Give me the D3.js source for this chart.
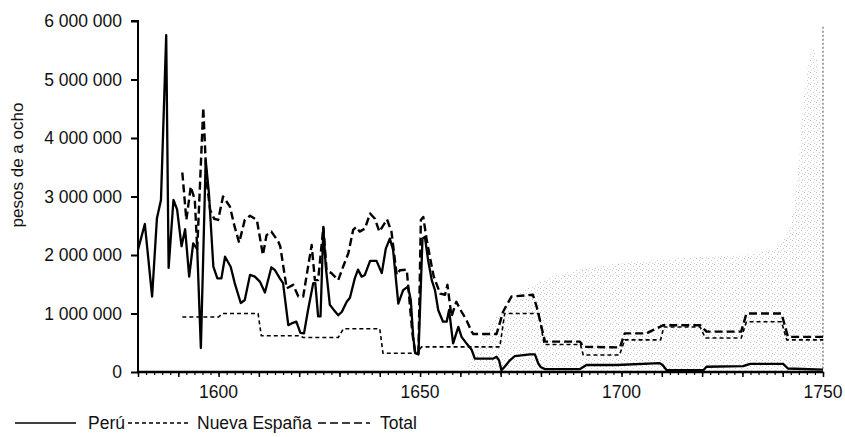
<!DOCTYPE html>
<html>
<head>
<meta charset="utf-8">
<script src="https://cdn.jsdelivr.net/npm/d3@7"></script>
<style>
  body { margin: 0; background: #fff; }
  svg text { font-family: "Liberation Sans", Arial, sans-serif; fill: #111; }
</style>
</head>
<body>
<svg id="chart" width="845" height="437"></svg>
<script>
// Perú
let peruYears = [1580, 1581.7, 1583.5, 1584.7, 1585.7, 1587, 1587.6, 1588.8, 1589.7, 1590.8,
  1591.7, 1592.7, 1593.7, 1594.7, 1595.6, 1596.8, 1597.6, 1598.7, 1599.7, 1600.7,
  1601.6, 1603, 1604, 1605.5, 1606.5, 1607.8, 1609, 1610.3, 1611.5, 1613.1,
  1614, 1615.2, 1616, 1617.3, 1618.1, 1619.3, 1620.3, 1621.2, 1622.2, 1623.5,
  1624, 1624.7, 1625.3, 1626, 1626.6, 1627.6, 1628.5, 1629.7, 1630.6, 1631.8,
  1632.6, 1633.8, 1634.6, 1635.5, 1636.3, 1637.6, 1639.2, 1640.5, 1641.5, 1642.5,
  1643.3, 1644.6, 1645.8, 1647, 1647.7, 1648.3, 1648.8, 1649.6, 1650.6, 1651.2,
  1652, 1652.9, 1653.7, 1654.5, 1655.7, 1656.6, 1657.2, 1658.2, 1659.5, 1660.3,
  1661.5, 1662.8, 1663.6, 1668.2, 1669, 1669.6, 1670.2, 1671, 1672.3, 1673.5,
  1677.3, 1678.5, 1679.3, 1680, 1681, 1689.7, 1691.3, 1698.8, 1709.5, 1710.2,
  1711.2, 1720.3, 1721.1, 1730.2, 1731.9, 1740.1, 1741.3, 1750];
let peruValues = [2.09, 2.53, 1.29, 2.63, 2.94, 5.76, 1.78, 2.94, 2.78, 2.15,
  2.44, 1.63, 2.2, 2.1, 0.41, 3.62, 3.06, 1.8, 1.6, 1.6,
  1.97, 1.8, 1.52, 1.18, 1.23, 1.66, 1.63, 1.54, 1.36, 1.79,
  1.74, 1.6, 1.52, 0.8, 0.83, 0.86, 0.67, 0.66, 1.06, 1.52,
  1.52, 0.95, 0.95, 2.46, 1.8, 1.15, 1.07, 0.97, 1.03, 1.2,
  1.27, 1.6, 1.75, 1.63, 1.66, 1.9, 1.9, 1.69, 2.11, 2.28,
  2.09, 1.17, 1.4, 1.46, 1.23, 0.6, 0.32, 0.3, 2.28, 2.31,
  1.91, 1.57, 1.4, 1.06, 0.86, 0.86, 1.06, 0.49, 0.77, 0.6,
  0.49, 0.38, 0.23, 0.23, 0.26, 0.2, 0.03, 0.09, 0.2, 0.27,
  0.3, 0.3, 0.15, 0.08, 0.05, 0.05, 0.12, 0.12, 0.15, 0.12,
  0.03, 0.03, 0.09, 0.1, 0.14, 0.14, 0.06, 0.04];

// Nueva España
let neYears = [1591, 1600, 1601, 1609.8, 1610.6, 1620.2, 1621, 1629.7, 1631, 1640,
  1640.8, 1649.2, 1650.4, 1669.8, 1671, 1679.5, 1680.8, 1689.8, 1690.5, 1699.5,
  1700.8, 1709.7, 1710.5, 1719.5, 1720.8, 1729.7, 1731, 1739.7, 1741, 1750];
let neValues = [0.94, 0.94, 1.0, 1.0, 0.62, 0.62, 0.59, 0.59, 0.74, 0.74,
  0.32, 0.32, 0.43, 0.43, 1.0, 1.0, 0.47, 0.47, 0.29, 0.29,
  0.55, 0.55, 0.77, 0.77, 0.58, 0.58, 0.86, 0.86, 0.55, 0.55];

// Total
let totalYears = [1591, 1592, 1593.1, 1594.1, 1594.7, 1596.2, 1597, 1597.9, 1598.9, 1599.9,
  1601.1, 1602.8, 1604, 1605.1, 1606.5, 1607.8, 1609.5, 1611, 1611.9, 1613.1,
  1614.8, 1615.3, 1616.9, 1618.5, 1619.8, 1621, 1621.8, 1623.1, 1623.9, 1624.7,
  1626, 1626.8, 1628, 1629.7, 1630.9, 1632.2, 1633.4, 1634.2, 1635, 1636.3,
  1637.6, 1638.8, 1639.9, 1641.8, 1642.9, 1644.2, 1645, 1646.7, 1647.5, 1648.1,
  1648.8, 1649.6, 1650.2, 1650.8, 1651.6, 1652.6, 1653.4, 1655, 1656.2, 1656.8,
  1657.8, 1659, 1660.3, 1661.5, 1662.8, 1663.2, 1669, 1670.6, 1672.7, 1678,
  1679, 1681, 1689.7, 1690.5, 1699.6, 1700.8, 1706.2, 1707.9, 1710.4, 1719.5,
  1721.1, 1729.7, 1731, 1739.7, 1741.3, 1750];
let totalValues = [3.41, 2.6, 3.17, 2.94, 2.1, 4.52, 3.28, 2.77, 2.62, 2.6,
  3.0, 2.83, 2.48, 2.21, 2.6, 2.67, 2.6, 2.0, 2.34, 2.4,
  2.23, 2.15, 1.43, 1.49, 1.29, 1.29, 1.63, 2.17, 1.57, 1.57,
  2.48, 1.74, 1.69, 1.57, 1.8, 2.03, 2.43, 2.48, 2.4, 2.45,
  2.71, 2.62, 2.4, 2.61, 2.4, 1.66, 1.74, 1.75, 1.12, 0.66,
  0.32, 0.32, 2.6, 2.65, 2.28, 1.91, 1.63, 1.34, 1.32, 1.49,
  0.95, 1.2, 1.03, 0.89, 0.69, 0.65, 0.65, 1.03, 1.29, 1.32,
  1.1, 0.52, 0.52, 0.43, 0.42, 0.66, 0.66, 0.72, 0.8, 0.8,
  0.69, 0.69, 1.0, 1.0, 0.6, 0.6];

let yTicks = [0, 1000000, 2000000, 3000000, 4000000, 5000000, 6000000];
let xTicks = [1600, 1650, 1700, 1750];
let legendLabels = ["Perú", "Nueva España", "Total"];

// scan speckle area (year, millions)
let speckleYears = [1661, 1664, 1668, 1676, 1690, 1712, 1735, 1742, 1744, 1746, 1750, 1750];
let speckleValues = [0, 0.45, 0.9, 1.5, 1.8, 1.95, 2.0, 2.2, 3.5, 5.6, 5.7, 0];

let svg = d3.select("#chart");
let width = 845, height = 437;

let x = d3.scaleLinear().domain([1580, 1750]).range([138, 823]);
let y = d3.scaleLinear().domain([0, 6000000]).range([372, 21]);

function series(years, values) {
    return years.map(function (d, i) { return {year: d, value: values[i] * 1000000}; });
}

let line = d3.line()
    .x(function (d) { return x(d.year); })
    .y(function (d) { return y(d.value); });

// speckle from the scan
let defs = svg.append("defs");
let pat = defs.append("pattern").attr("id", "speckle")
    .attr("patternUnits", "userSpaceOnUse").attr("width", 6).attr("height", 6);
pat.append("rect").attr("x", 0).attr("y", 0).attr("width", 1).attr("height", 1).attr("fill", "#999");
pat.append("rect").attr("x", 3).attr("y", 2).attr("width", 1).attr("height", 1).attr("fill", "#aaa");
pat.append("rect").attr("x", 1).attr("y", 4).attr("width", 1).attr("height", 1).attr("fill", "#bbb");
pat.append("rect").attr("x", 4).attr("y", 5).attr("width", 1).attr("height", 1).attr("fill", "#aaa");

svg.append("path")
    .datum(series(speckleYears, speckleValues))
    .attr("d", d3.line().x(function (d) { return x(d.year); }).y(function (d) { return y(d.value); }).curve(d3.curveBasis))
    .attr("fill", "url(#speckle)")
    .attr("opacity", 0.6);

svg.append("line")
    .attr("x1", x(1750)).attr("x2", x(1750))
    .attr("y1", y(5900000)).attr("y2", y(0))
    .attr("stroke", "#888").attr("stroke-width", 1.5)
    .attr("stroke-dasharray", "2,2");

// axes
let yAxis = d3.axisLeft(y)
    .tickValues(yTicks)
    .tickSize(7)
    .tickPadding(9)
    .tickFormat(function (d) { return d3.format(",")(d).replace(/,/g, " "); });

let gy = svg.append("g").attr("transform", "translate(" + x(1580) + ",0)").call(yAxis);
gy.select(".domain").attr("d", "M-7," + y(6000000) + "H0V" + y(0)).attr("stroke-width", 2);
gy.selectAll(".tick line").attr("stroke-width", 2);
gy.selectAll(".tick text").attr("font-size", 17.5).style("font-family", '"Liberation Sans", Arial, sans-serif');

let minor = d3.range(1580, 1751, 2);
let gxm = svg.append("g").attr("transform", "translate(0," + y(0) + ")")
    .call(d3.axisBottom(x).tickValues(minor).tickSize(3).tickFormat(""));
gxm.select(".domain").remove();
gxm.selectAll(".tick line").attr("stroke-width", 1.2);

let gx = svg.append("g").attr("transform", "translate(0," + y(0) + ")")
    .call(d3.axisBottom(x).tickValues(d3.range(1580, 1751, 10)).tickSize(5).tickFormat(""));
gx.select(".domain").attr("d", "M" + x(1580) + ",0H" + x(1750)).attr("stroke-width", 2.5);
gx.selectAll(".tick line").attr("stroke-width", 1.5);

svg.append("g").selectAll("text").data(xTicks).enter().append("text")
    .attr("x", function (d) { return x(d); })
    .attr("y", 398)
    .attr("text-anchor", "middle")
    .attr("font-size", 17.5)
    .text(function (d) { return d; });

svg.append("text")
    .attr("transform", "translate(23,165) rotate(-90)")
    .attr("text-anchor", "middle")
    .attr("font-size", 17)
    .text("pesos de a ocho");

// lines
let styles = [
    {data: series(peruYears, peruValues), dash: null, w: 2.3},
    {data: series(neYears, neValues), dash: "4,3", w: 1.6},
    {data: series(totalYears, totalValues), dash: "8,4", w: 2.4}
];

svg.append("g").selectAll("path").data(styles).enter().append("path")
    .attr("d", function (d) { return line(d.data); })
    .attr("fill", "none")
    .attr("stroke", "#000")
    .attr("stroke-width", function (d) { return d.w; })
    .attr("stroke-linejoin", "round")
    .attr("stroke-dasharray", function (d) { return d.dash; });

// legend
let legendX = [15, 128, 318];
let lg = svg.append("g").selectAll("g").data(styles).enter().append("g")
    .attr("transform", function (d, i) { return "translate(" + legendX[i] + ",423)"; });
lg.append("line")
    .attr("x1", 0).attr("x2", function (d, i) { return i === 2 ? 52 : 61; })
    .attr("y1", 0).attr("y2", 0)
    .attr("stroke", "#000")
    .attr("stroke-width", function (d, i) { return i === 0 ? 1.5 : 1.3; })
    .attr("stroke-dasharray", function (d) { return d.dash; });
lg.append("text")
    .attr("x", function (d, i) { return i === 2 ? 62 : (i === 0 ? 73 : 69); })
    .attr("y", 6)
    .attr("font-size", 17.5)
    .text(function (d, i) { return legendLabels[i]; });
</script>
</body>
</html>
